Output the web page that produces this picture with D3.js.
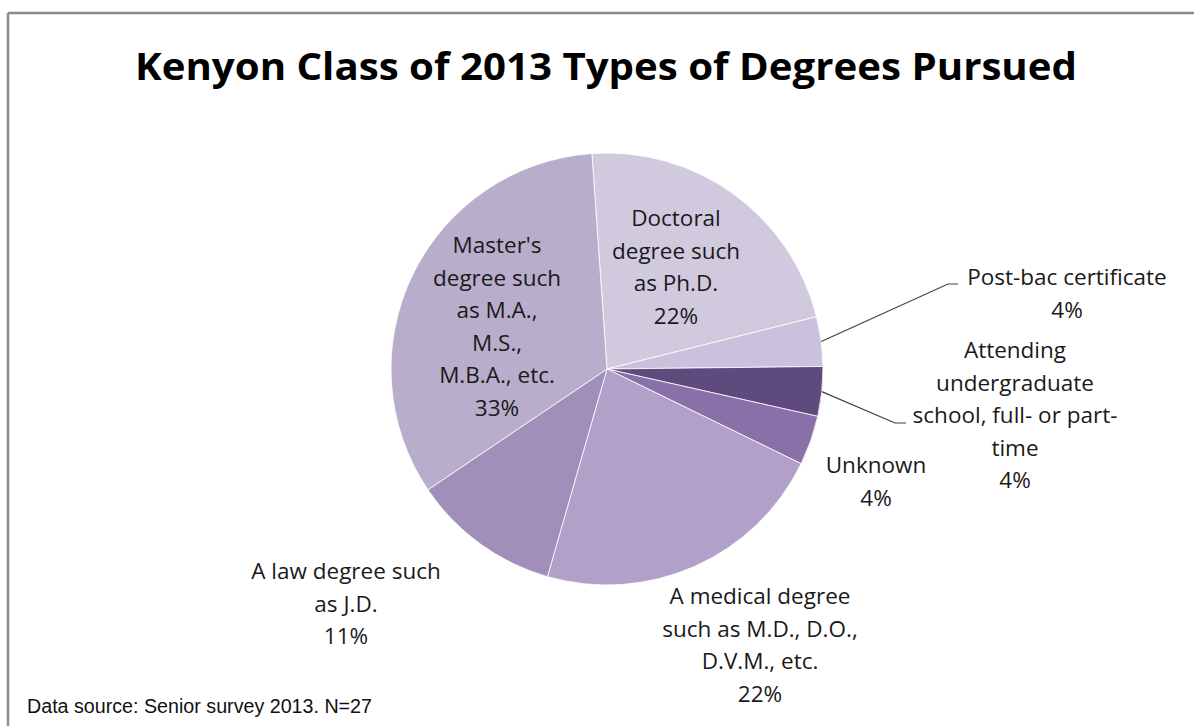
<!DOCTYPE html>
<html><head><meta charset="utf-8">
<script src="https://cdn.jsdelivr.net/npm/d3@7"></script>
<style>body{margin:0;background:#fff;}svg{display:block;}</style>
</head><body>
<svg id="chart" width="1194" height="726"></svg>
<script>
const categories = ["Doctoral degree such as Ph.D.", "Post-bac certificate", "Attending undergraduate school, full- or part-time", "Unknown", "A medical degree such as M.D., D.O., D.V.M., etc.", "A law degree such as J.D.", "Master's degree such as M.A., M.S., M.B.A., etc."];
const counts = [6, 1, 1, 1, 6, 3, 9];
const colors = ["#d1cade", "#cbc1dd", "#5e4a7c", "#8a70a9", "#b1a1c8", "#a08fb8", "#b8aecb"];
const labelLines = [
  ["Doctoral", "degree such", "as Ph.D."],
  ["Post-bac certificate"],
  ["Attending", "undergraduate", "school, full- or part-", "time"],
  ["Unknown"],
  ["A medical degree", "such as M.D., D.O.,", "D.V.M., etc."],
  ["A law degree such", "as J.D."],
  ["Master's", "degree such", "as M.A.,", "M.S.,", "M.B.A., etc."]
];
const labelPos = [[676,226],[1067,285],[1015,358],[876,473],[760,604],[346,579],[497,253]];

const svg = d3.select("#chart");
const W = 1194, H = 726;
const cx = 607, cy = 369, R = 216;
const lh = 32.5;
const font = "'Open Sans', 'Noto Sans', sans-serif";

// frame
svg.append("line").attr("x1",8).attr("x2",W).attr("y1",13).attr("y2",13).attr("stroke","#8c8c8c").attr("stroke-width",2.5);
svg.append("line").attr("x1",8).attr("x2",8).attr("y1",13).attr("y2",H).attr("stroke","#8c8c8c").attr("stroke-width",2.5);

svg.append("text").attr("x",606).attr("y",80).attr("text-anchor","middle")
  .attr("font-family",font).attr("font-weight","bold").attr("font-size",38)
  .attr("textLength",942).attr("lengthAdjust","spacingAndGlyphs")
  .attr("fill","#000").text("Kenyon Class of 2013 Types of Degrees Pursued");

const total = d3.sum(counts);
const start = -4 * Math.PI / 180;
const pie = d3.pie().sort(null).startAngle(start).endAngle(start + 2*Math.PI);
const arcs = pie(counts);
const arc = d3.arc().innerRadius(0).outerRadius(R);

const g = svg.append("g").attr("transform",`translate(${cx},${cy})`);
g.selectAll("path").data(arcs).enter().append("path")
  .attr("d",arc).attr("fill",(d,i)=>colors[i]).attr("stroke","#fff").attr("stroke-width",0.8);

// leader lines
const leaders = [
  {i:1, pts:[[0,0],[948,284],[958,284]]},
  {i:2, pts:[[0,0],[895,423],[906,423]]}
];
leaders.forEach(l => {
  const a = arcs[l.i];
  const mid = (a.startAngle + a.endAngle)/2;
  const p0 = [cx + R*Math.sin(mid), cy - R*Math.cos(mid)];
  const pts = [p0, l.pts[1], l.pts[2]];
  svg.append("path").attr("d", d3.line()(pts)).attr("fill","none").attr("stroke","#404040").attr("stroke-width",1.2);
});

// labels
labelLines.forEach((lines, i) => {
  const pct = Math.round(counts[i]/total*100) + "%";
  const all = lines.concat([pct]);
  const t = svg.append("text").attr("text-anchor","middle")
    .attr("font-family",font).attr("font-size",22.5).attr("fill","#1a1a1a");
  all.forEach((s, k) => {
    t.append("tspan").attr("x",labelPos[i][0]).attr("y",labelPos[i][1] + k*lh).text(s);
  });
});

svg.append("text").attr("x",27).attr("y",713)
  .attr("font-family","'Liberation Sans Narrow', 'Arial Narrow', 'Liberation Sans', sans-serif")
  .attr("font-size",20).attr("textLength",345).attr("lengthAdjust","spacingAndGlyphs")
  .attr("fill","#111").text("Data source: Senior survey 2013. N=27");
</script>
</body></html>
